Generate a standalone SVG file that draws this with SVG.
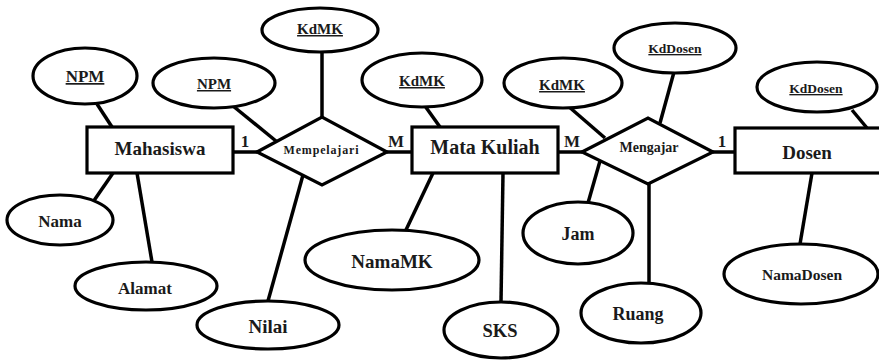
<svg xmlns="http://www.w3.org/2000/svg" width="879" height="363" viewBox="0 0 879 363">
<style>
  .shape { fill: #ffffff; stroke: #000000; stroke-width: 3.2; }
  .conn line { stroke: #000000; stroke-width: 3.5; }
  text { font-family: "Liberation Serif", "Times New Roman", serif; font-weight: bold; fill: #1a1a1a; text-anchor: middle; }
  .key { text-decoration: underline; }
</style>
<rect width="879" height="363" fill="#ffffff"/>
<g id="connectors" class="conn">
  <line x1="97" y1="104" x2="112" y2="127"/>
  <line x1="233" y1="106" x2="276" y2="141"/>
  <line x1="233" y1="152" x2="257" y2="152"/>
  <line x1="322" y1="51" x2="322" y2="117"/>
  <line x1="387" y1="152" x2="412" y2="152"/>
  <line x1="425" y1="106" x2="440" y2="127"/>
  <line x1="93" y1="202" x2="113" y2="173"/>
  <line x1="152" y1="262" x2="137" y2="173"/>
  <line x1="268" y1="301" x2="303" y2="175"/>
  <line x1="405" y1="232" x2="433" y2="173"/>
  <line x1="501" y1="302" x2="503" y2="173"/>
  <line x1="558" y1="152" x2="582" y2="152"/>
  <line x1="568" y1="106" x2="605" y2="138"/>
  <line x1="674" y1="72" x2="660" y2="123"/>
  <line x1="713" y1="152" x2="735" y2="152"/>
  <line x1="852" y1="110" x2="867" y2="128"/>
  <line x1="588" y1="203" x2="600" y2="161"/>
  <line x1="649" y1="283" x2="649" y2="184"/>
  <line x1="800" y1="244" x2="812" y2="173"/>
</g>
<g id="mahasiswa"><rect class="shape" x="87" y="127" width="146" height="46"/><text x="160" y="155" font-size="19">Mahasiswa</text></g>
<g id="mata-kuliah"><rect class="shape" x="412" y="127" width="146" height="46"/><text x="485" y="154" font-size="20">Mata Kuliah</text></g>
<g id="dosen"><rect class="shape" x="735" y="128" width="150" height="45"/><text x="807" y="159" font-size="19">Dosen</text></g>
<g id="mempelajari"><polygon class="shape" points="257,152 322,117 387,152 322,185"/><text x="321" y="154" font-size="12" textLength="75" lengthAdjust="spacing">Mempelajari</text></g>
<g id="mengajar"><polygon class="shape" points="582,152 648,118 713,152 648,184"/><text x="649" y="152" font-size="14">Mengajar</text></g>
<g id="npm-mhs"><ellipse class="shape" cx="85" cy="76" rx="52" ry="28"/><text class="key" x="85" y="82" font-size="17">NPM</text></g>
<g id="npm-rel"><ellipse class="shape" cx="214" cy="83" rx="61" ry="25"/><text class="key" x="214" y="89" font-size="15">NPM</text></g>
<g id="kdmk-rel"><ellipse class="shape" cx="320" cy="30" rx="58" ry="22"/><text class="key" x="320" y="34" font-size="15">KdMK</text></g>
<g id="kdmk-mk"><ellipse class="shape" cx="422" cy="80" rx="60" ry="27"/><text class="key" x="422" y="86" font-size="15">KdMK</text></g>
<g id="kdmk-ajar"><ellipse class="shape" cx="563" cy="83" rx="59" ry="25"/><text class="key" x="562" y="90" font-size="15">KdMK</text></g>
<g id="kddosen-ajar"><ellipse class="shape" cx="675" cy="48" rx="61" ry="25"/><text class="key" x="675" y="53" font-size="13.5">KdDosen</text></g>
<g id="kddosen-dosen"><ellipse class="shape" cx="817" cy="87" rx="60" ry="25"/><text class="key" x="816" y="93" font-size="13.5">KdDosen</text></g>
<g id="nama"><ellipse class="shape" cx="60" cy="220" rx="53" ry="25"/><text x="60" y="227" font-size="17">Nama</text></g>
<g id="alamat"><ellipse class="shape" cx="146" cy="286" rx="71" ry="24"/><text x="145" y="294" font-size="17">Alamat</text></g>
<g id="nilai"><ellipse class="shape" cx="268" cy="325" rx="71" ry="24"/><text x="268" y="333" font-size="19">Nilai</text></g>
<g id="namamk"><ellipse class="shape" cx="392" cy="260" rx="87" ry="30"/><text x="392" y="268" font-size="19">NamaMK</text></g>
<g id="sks"><ellipse class="shape" cx="501" cy="330" rx="57" ry="28"/><text x="500" y="337" font-size="18.5">SKS</text></g>
<g id="jam"><ellipse class="shape" cx="578" cy="233" rx="55" ry="31"/><text x="578" y="240" font-size="18">Jam</text></g>
<g id="ruang"><ellipse class="shape" cx="641" cy="313" rx="60" ry="30"/><text x="638" y="320" font-size="18">Ruang</text></g>
<g id="namadosen"><ellipse class="shape" cx="801" cy="274" rx="77" ry="30"/><text x="802" y="280" font-size="15.5">NamaDosen</text></g>
<g id="cardinalities">
  <text x="245" y="147" font-size="17">1</text>
  <text x="396" y="147" font-size="17">M</text>
  <text x="572" y="147" font-size="17">M</text>
  <text x="722" y="147" font-size="17">1</text>
</g>
</svg>
